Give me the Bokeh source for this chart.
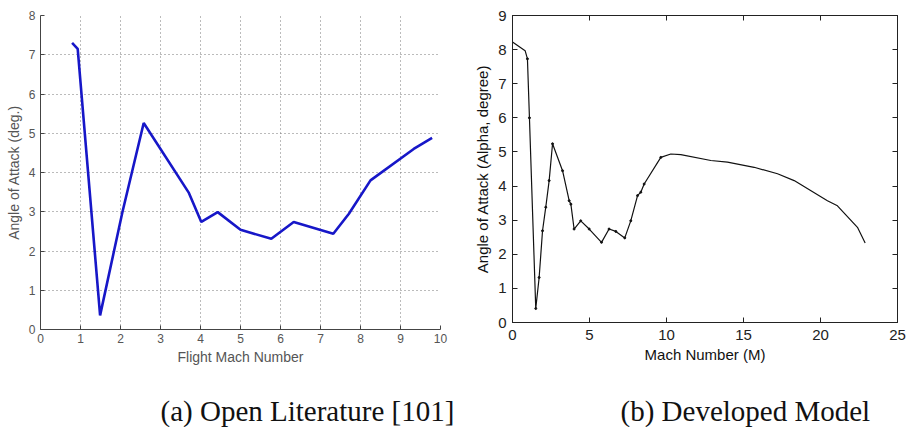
from bokeh.plotting import figure
from bokeh.layouts import column, row
from bokeh.models import Label, LinearAxis, FixedTicker, Range1d, CustomJSTickFormatter
from bokeh.embed import file_html
from bokeh.resources import INLINE

# (a) published angle-of-attack schedule
lit_mach = [0.79, 0.93, 1.49, 2.05, 2.58, 3.71, 4.02, 4.43, 5.0, 5.77, 6.33, 7.32, 7.71, 8.25, 9.33, 9.79]
lit_alpha = [7.30, 7.15, 0.36, 3.0, 5.26, 3.48, 2.74, 2.99, 2.54, 2.31, 2.74, 2.44, 2.95, 3.80, 4.60, 4.88]

# (b) schedule produced by the developed model
mod_mach = [0, 0.82, 0.97, 1.10, 1.51, 1.73, 1.95, 2.16, 2.38, 2.60, 3.25, 3.68, 3.79, 4.0, 4.43,
            4.98, 5.78, 6.27, 6.71, 7.29, 7.68, 8.12, 8.33, 8.55, 9.63, 10.28, 10.93, 12.88,
            13.96, 15.69, 17.21, 18.29, 20.45, 21.10, 22.4, 22.9]
mod_alpha = [8.22, 7.97, 7.73, 6.0, 0.41, 1.32, 2.69, 3.38, 4.16, 5.24, 4.45, 3.57, 3.47, 2.74, 2.98,
             2.74, 2.35, 2.74, 2.67, 2.48, 2.98, 3.72, 3.82, 4.06, 4.84, 4.94, 4.92, 4.75,
             4.70, 4.55, 4.36, 4.16, 3.57, 3.42, 2.79, 2.33]

lit_xticks = list(range(0, 11))
lit_yticks = list(range(0, 9))
mod_xticks = [0, 5, 10, 15, 20, 25]
mod_yticks = list(range(0, 10))

captions = ["(a)  Open Literature [101]", "(b) Developed Model"]

SANS = "Liberation Sans"
SERIF = "Liberation Serif"

# ---- left panel -------------------------------------------------------------
p1 = figure(width=460, height=380, output_backend="svg", toolbar_location=None, title=None,
            x_range=Range1d(0, 10), y_range=Range1d(0, 8),
            min_border_left=40, min_border_right=20, min_border_top=15, min_border_bottom=51)
p1.outline_line_color = None
p1.line(lit_mach, lit_alpha, line_color="#1717c8", line_width=2.6)

p1.xaxis.ticker = FixedTicker(ticks=lit_xticks)
p1.yaxis.ticker = FixedTicker(ticks=lit_yticks)
for ax in (p1.xaxis[0], p1.yaxis[0]):
    ax.axis_line_color = "#444444"
    ax.major_tick_line_color = "#444444"
    ax.major_tick_in = 4
    ax.major_tick_out = 0
    ax.minor_tick_line_color = None
    ax.major_label_text_font = SANS
    ax.major_label_text_font_size = "12px"
    ax.major_label_text_color = "#555555"
    ax.axis_label_text_font = SANS
    ax.axis_label_text_font_size = "14px"
    ax.axis_label_text_font_style = "normal"
    ax.axis_label_text_color = "#555555"
p1.xaxis.axis_label = "Flight Mach Number"
p1.yaxis.axis_label = "Angle of Attack (deg.)"
p1.xaxis.major_label_standoff = 4
p1.xaxis.axis_label_standoff = 3
p1.yaxis.major_label_standoff = 5
p1.yaxis.axis_label_standoff = 4
p1.grid.grid_line_color = "#777777"
p1.grid.grid_line_dash = "1 3"
p1.grid.grid_line_width = 1

# ---- right panel ------------------------------------------------------------
p2 = figure(width=446, height=380, output_backend="svg", toolbar_location=None, title=None,
            x_range=Range1d(0, 25), y_range=Range1d(0, 9),
            min_border_left=52, min_border_right=9, min_border_top=15, min_border_bottom=58)
p2.outline_line_color = "#222222"
p2.outline_line_width = 1
p2.grid.grid_line_color = None
p2.line(mod_mach, mod_alpha, line_color="#111111", line_width=1.2)
dot_x = [m for m in mod_mach if 0.9 < m < 9.7]
dot_y = [a for m, a in zip(mod_mach, mod_alpha) if 0.9 < m < 9.7]
p2.scatter(dot_x, dot_y, size=2, color="#111111")

bottom_ax = p2.below[0]
left_ax = p2.left[0]
bottom_ax.ticker = FixedTicker(ticks=mod_xticks)
left_ax.ticker = FixedTicker(ticks=mod_yticks)

# inward ticks on the top and right edges, without labels
blank = CustomJSTickFormatter(code="return ''")
top_ax = LinearAxis(ticker=FixedTicker(ticks=mod_xticks), formatter=blank, major_label_standoff=0)
right_ax = LinearAxis(ticker=FixedTicker(ticks=mod_yticks), formatter=blank, major_label_standoff=0)
p2.add_layout(top_ax, "above")
p2.add_layout(right_ax, "right")

for ax in (bottom_ax, left_ax, top_ax, right_ax):
    ax.axis_line_color = "#222222"
    ax.major_tick_line_color = "#222222"
    ax.major_tick_in = 5
    ax.major_tick_out = 0
    ax.minor_tick_line_color = None
    ax.major_label_text_font = SANS
    ax.major_label_text_font_size = "15px"
    ax.major_label_text_color = "#222222"
    ax.axis_label_text_font = SANS
    ax.axis_label_text_font_size = "15px"
    ax.axis_label_text_font_style = "normal"
    ax.axis_label_text_color = "#111111"
bottom_ax.axis_label = "Mach Number (M)"
left_ax.axis_label = "Angle of Attack (Alpha, degree)"
bottom_ax.major_label_standoff = 7
bottom_ax.axis_label_standoff = 3
left_ax.major_label_standoff = 6
left_ax.axis_label_standoff = 4

# ---- captions ---------------------------------------------------------------
p3 = figure(width=906, height=47, output_backend="svg", toolbar_location=None, title=None,
            x_range=Range1d(0, 1), y_range=Range1d(0, 1),
            min_border=0, min_border_left=0, min_border_right=0,
            min_border_top=0, min_border_bottom=0)
p3.axis.visible = False
p3.grid.visible = False
p3.outline_line_color = None
for txt, xpos in zip(captions, [160, 620]):
    p3.add_layout(Label(x=xpos, y=17, x_units="screen", y_units="screen", text=txt,
                        text_font=SERIF, text_font_size="29px", text_color="#111111",
                        text_baseline="alphabetic", text_align="left"))

layout = column(row(column(p1), column(p2), spacing=0), p3, spacing=0)
open("out.html", "w").write(file_html(layout, INLINE))
